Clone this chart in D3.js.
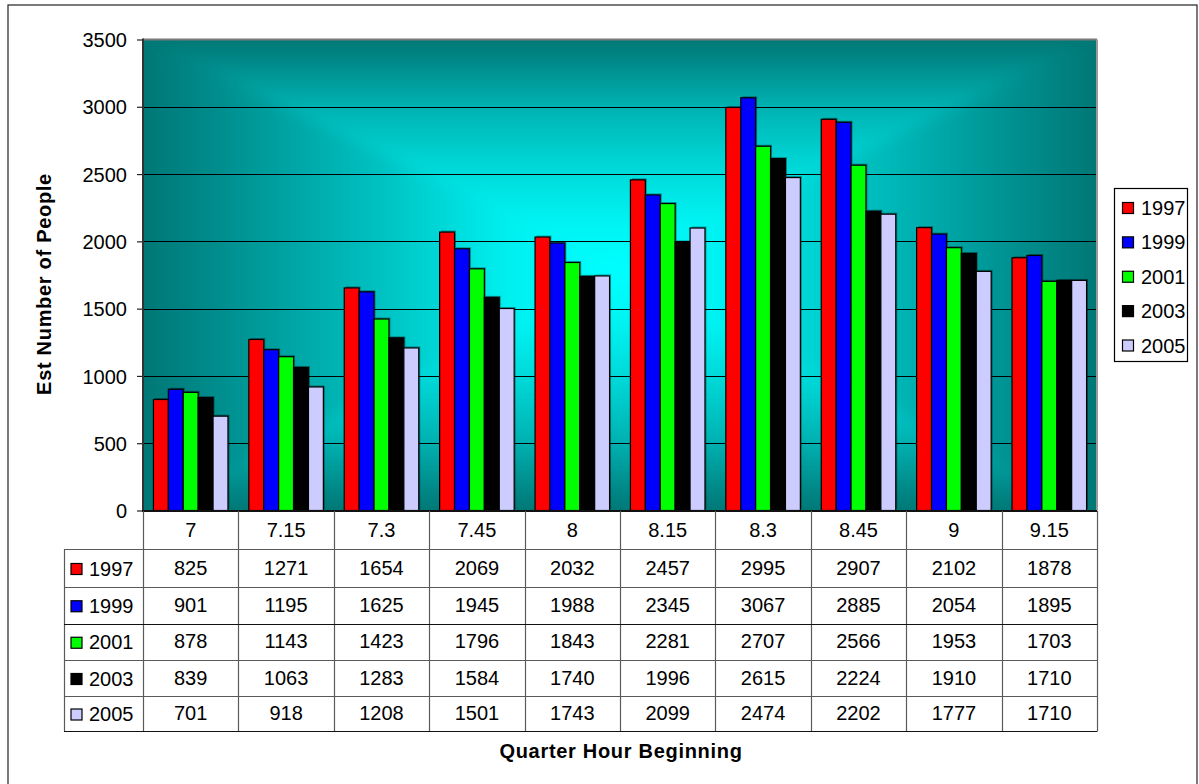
<!DOCTYPE html>
<html>
<head>
<meta charset="utf-8">
<script src="https://cdn.jsdelivr.net/npm/d3@7"></script>
<style>
  html, body { margin: 0; padding: 0; background: #fff; }
  svg { display: block; font-family: "Liberation Sans", Arial, sans-serif; }
</style>
</head>
<body>
<svg id="chart" width="1199" height="784"></svg>
<script>
// Quarter-hour start times and survey years
const categories = ["7", "7.15", "7.3", "7.45", "8", "8.15", "8.3", "8.45", "9", "9.15"];
const years = ["1997", "1999", "2001", "2003", "2005"];

// Estimated number of people per quarter hour, one array per year
const v1997 = [825, 1271, 1654, 2069, 2032, 2457, 2995, 2907, 2102, 1878];
const v1999 = [901, 1195, 1625, 1945, 1988, 2345, 3067, 2885, 2054, 1895];
const v2001 = [878, 1143, 1423, 1796, 1843, 2281, 2707, 2566, 1953, 1703];
const v2003 = [839, 1063, 1283, 1584, 1740, 1996, 2615, 2224, 1910, 1710];
const v2005 = [701, 918, 1208, 1501, 1743, 2099, 2474, 2202, 1777, 1710];

const yTicks = [0, 500, 1000, 1500, 2000, 2500, 3000, 3500];
const seriesColors = ["#ff0000", "#0000ff", "#00ff00", "#000000", "#ccccff"];

const series = [v1997, v1999, v2001, v2003, v2005].map((vals, i) => ({
  year: years[i], color: seriesColors[i], values: vals
}));

const svg = d3.select("#chart");
const FONT = 20;

// Plot frame
const pLeft = 143, pRight = 1097, pTop = 39.5, pBottom = 510.5;
const pcx = 620, pcy = 271;

const x = d3.scaleBand().domain(categories).range([pLeft, pRight]).padding(0);
const xi = d3.scaleBand().domain(years).range([0, x.bandwidth()])
  .paddingInner(0).paddingOuter(0.7);
const y = d3.scaleLinear().domain([0, 3500]).range([pBottom, pTop]);

// Outer chart border
svg.append("rect").attr("x", 8).attr("y", 5).attr("width", 1189).attr("height", 790)
  .attr("fill", "#fff").attr("stroke", "#222").attr("stroke-width", 1.2);

// Background: rectangular "from centre" gradient built from four triangles,
// softened with a blur and clipped to the plot area
const defs = svg.append("defs");
defs.append("clipPath").attr("id", "plotClip")
  .append("rect").attr("x", pLeft).attr("y", pTop)
  .attr("width", pRight - pLeft).attr("height", pBottom - pTop);
defs.append("filter").attr("id", "soft")
  .attr("x", "-5%").attr("y", "-5%").attr("width", "110%").attr("height", "110%")
  .append("feGaussianBlur").attr("stdDeviation", 7);

const stopsV = [
  [0, "#00ffff"], [0.2, "#00f4f4"], [0.45, "#00d8d8"],
  [0.72, "#00b0b0"], [0.9, "#008a89"], [1, "#007775"]
];
const stopsH = [
  [0, "#00ffff"], [0.23, "#00f0f0"], [0.5, "#00c2c2"],
  [0.79, "#009595"], [1, "#007775"]
];
const ext = 30; // triangles run past the frame so the blur has no soft edge
const ex0 = pLeft - ext, ex1 = pRight + ext, ey0 = pTop - ext, ey1 = pBottom + ext;
// corner points along the diagonals from the centre
const cornerAt = (cx0, cy0) => {
  const t = 1 + ext / Math.min(Math.abs(cx0 - pcx), Math.abs(cy0 - pcy));
  return [pcx + (cx0 - pcx) * t, pcy + (cy0 - pcy) * t];
};
const TL = cornerAt(pLeft, pTop), TR = cornerAt(pRight, pTop);
const BL = cornerAt(pLeft, pBottom), BR = cornerAt(pRight, pBottom);
const sides = [
  { id: "gT", pts: [TL, TR, [pcx, pcy]], to: [pcx, pTop], stops: stopsV },
  { id: "gB", pts: [BL, BR, [pcx, pcy]], to: [pcx, pBottom], stops: stopsV },
  { id: "gL", pts: [TL, BL, [pcx, pcy]], to: [pLeft, pcy], stops: stopsH },
  { id: "gR", pts: [TR, BR, [pcx, pcy]], to: [pRight, pcy], stops: stopsH }
];
const bgClip = svg.append("g").attr("clip-path", "url(#plotClip)");
const bg = bgClip.append("g").attr("filter", "url(#soft)");
sides.forEach(s => {
  const g = defs.append("linearGradient").attr("id", s.id)
    .attr("gradientUnits", "userSpaceOnUse")
    .attr("x1", pcx).attr("y1", pcy).attr("x2", s.to[0]).attr("y2", s.to[1]);
  s.stops.forEach(st => g.append("stop").attr("offset", st[0]).attr("stop-color", st[1]));
  bg.append("polygon").attr("points", s.pts.map(p => p.join(",")).join(" "))
    .attr("fill", `url(#${s.id})`).attr("stroke", `url(#${s.id})`).attr("stroke-width", 1);
});
// fill any sliver outside the triangles with the edge colour
bg.insert("rect", ":first-child").attr("x", ex0 - 20).attr("y", ey0 - 20)
  .attr("width", ex1 - ex0 + 40).attr("height", ey1 - ey0 + 40).attr("fill", "#007775");

// Horizontal gridlines
svg.append("g").selectAll("line")
  .data(yTicks.filter(t => t > 0 && t < 3500))
  .join("line")
  .attr("x1", pLeft).attr("x2", pRight)
  .attr("y1", d => Math.round(y(d)) + 0.5).attr("y2", d => Math.round(y(d)) + 0.5)
  .attr("stroke", "#000").attr("stroke-width", 1.2);

// Plot area frame (top and right)
svg.append("line").attr("x1", pLeft).attr("x2", pRight).attr("y1", pTop).attr("y2", pTop)
  .attr("stroke", "#7a7a7a").attr("stroke-width", 2);
svg.append("line").attr("x1", pRight).attr("x2", pRight).attr("y1", pTop).attr("y2", pBottom)
  .attr("stroke", "#9a9a9a").attr("stroke-width", 2);

// Bars
const groups = svg.append("g").selectAll("g")
  .data(categories)
  .join("g")
  .attr("transform", d => `translate(${x(d)},0)`);

const barData = ci => series.map(s => ({ year: s.year, color: s.color, value: s.values[ci] }));

groups.each(function (c, ci) {
  const g = d3.select(this);
  const data = barData(ci);
  // soft shadow behind bars
  g.selectAll("rect.shadow").data(data).join("rect").attr("class", "shadow")
    .attr("x", d => xi(d.year) + 1.5)
    .attr("y", d => y(d.value) - 1.5)
    .attr("width", xi.bandwidth())
    .attr("height", d => pBottom - y(d.value))
    .attr("fill", "#000").attr("opacity", 0.35);
  g.selectAll("rect.bar").data(data).join("rect").attr("class", "bar")
    .attr("x", d => xi(d.year))
    .attr("y", d => y(d.value))
    .attr("width", xi.bandwidth())
    .attr("height", d => pBottom - y(d.value))
    .attr("fill", d => d.color)
    .attr("stroke", "#000").attr("stroke-width", 1.2);
});

// Y axis
const yAxis = d3.axisLeft(y).tickValues(yTicks).tickSize(6).tickPadding(10)
  .tickFormat(d3.format("d"));
const ya = svg.append("g").attr("transform", `translate(${pLeft},0)`).call(yAxis);
ya.select(".domain").remove();
ya.selectAll(".tick line").attr("stroke", "#222").attr("stroke-width", 1.2);
ya.selectAll(".tick text").attr("font-size", FONT).attr("fill", "#000")
  .attr("font-family", "Liberation Sans, Arial, sans-serif").attr("dy", "0.36em");
svg.append("line").attr("x1", pLeft).attr("x2", pLeft).attr("y1", pTop - 1).attr("y2", pBottom + 1)
  .attr("stroke", "#333").attr("stroke-width", 2);
svg.append("line").attr("x1", pLeft - 1).attr("x2", pRight).attr("y1", pBottom + 0.5).attr("y2", pBottom + 0.5)
  .attr("stroke", "#111").attr("stroke-width", 2);

// Y axis title
svg.append("text")
  .attr("transform", "translate(51,284) rotate(-90)")
  .attr("text-anchor", "middle")
  .attr("font-size", FONT).attr("font-weight", "bold").attr("letter-spacing", 0.7)
  .text("Est Number of People");

// Data table under the plot
const headerTop = 511;
const rowEdges = [549, 587, 623.5, 660, 696, 731];
const tableLeft = 64;
const gridColor = "#5a5a5a";
const tbl = svg.append("g");

// header row: category labels
tbl.selectAll("text.cat").data(categories).join("text").attr("class", "cat")
  .attr("x", d => x(d) + x.bandwidth() / 2).attr("y", 537)
  .attr("text-anchor", "middle").attr("font-size", FONT).text(d => d);

// vertical column lines
const colEdges = categories.map(c => x(c)).concat([pRight]);
tbl.selectAll("line.col").data(colEdges).join("line").attr("class", "col")
  .attr("x1", d => Math.round(d) + 0.5).attr("x2", d => Math.round(d) + 0.5)
  .attr("y1", headerTop).attr("y2", rowEdges[rowEdges.length - 1])
  .attr("stroke", gridColor).attr("stroke-width", 1.2);
tbl.append("line").attr("x1", tableLeft + 0.5).attr("x2", tableLeft + 0.5)
  .attr("y1", rowEdges[0]).attr("y2", rowEdges[rowEdges.length - 1])
  .attr("stroke", gridColor).attr("stroke-width", 1.2);

// horizontal row lines
tbl.selectAll("line.row").data(rowEdges).join("line").attr("class", "row")
  .attr("x1", tableLeft).attr("x2", pRight + 0.5)
  .attr("y1", d => Math.round(d) + 0.5).attr("y2", d => Math.round(d) + 0.5)
  .attr("stroke", (d, i) => (i === 2 || i === rowEdges.length - 1) ? "#111" : gridColor)
  .attr("stroke-width", 1.2);

// value rows with series keys
series.forEach((s, si) => {
  const rTop = rowEdges[si], rBot = rowEdges[si + 1];
  const mid = (rTop + rBot) / 2;
  tbl.append("rect").attr("x", 71).attr("y", mid - 4.5).attr("width", 11).attr("height", 11)
    .attr("fill", s.color).attr("stroke", "#000").attr("stroke-width", 1.2);
  tbl.append("text").attr("x", 89).attr("y", mid + 7.5).attr("font-size", FONT).text(s.year);
  tbl.selectAll(null).data(s.values).join("text")
    .attr("x", (d, i) => x(categories[i]) + x.bandwidth() / 2)
    .attr("y", mid + 6.5)
    .attr("text-anchor", "middle").attr("font-size", FONT).text(d => d);
});

// X axis title
svg.append("text").attr("x", 621).attr("y", 758)
  .attr("text-anchor", "middle").attr("font-size", FONT).attr("font-weight", "bold")
  .attr("letter-spacing", 0.7).text("Quarter Hour Beginning");

// Legend
const lg = svg.append("g");
lg.append("rect").attr("x", 1114.5).attr("y", 188.5).attr("width", 73).attr("height", 173)
  .attr("fill", "#fff").attr("stroke", "#000").attr("stroke-width", 1.2);
const legendRowY = d3.scalePoint().domain(years).range([207.5, 345]);
years.forEach((yr, i) => {
  const cyL = legendRowY(yr);
  lg.append("rect").attr("x", 1122.5).attr("y", cyL - 5).attr("width", 11).attr("height", 11)
    .attr("fill", seriesColors[i]).attr("stroke", "#000").attr("stroke-width", 1.2);
  lg.append("text").attr("x", 1141).attr("y", cyL + 7.5).attr("font-size", FONT).text(yr);
});
</script>
</body>
</html>
